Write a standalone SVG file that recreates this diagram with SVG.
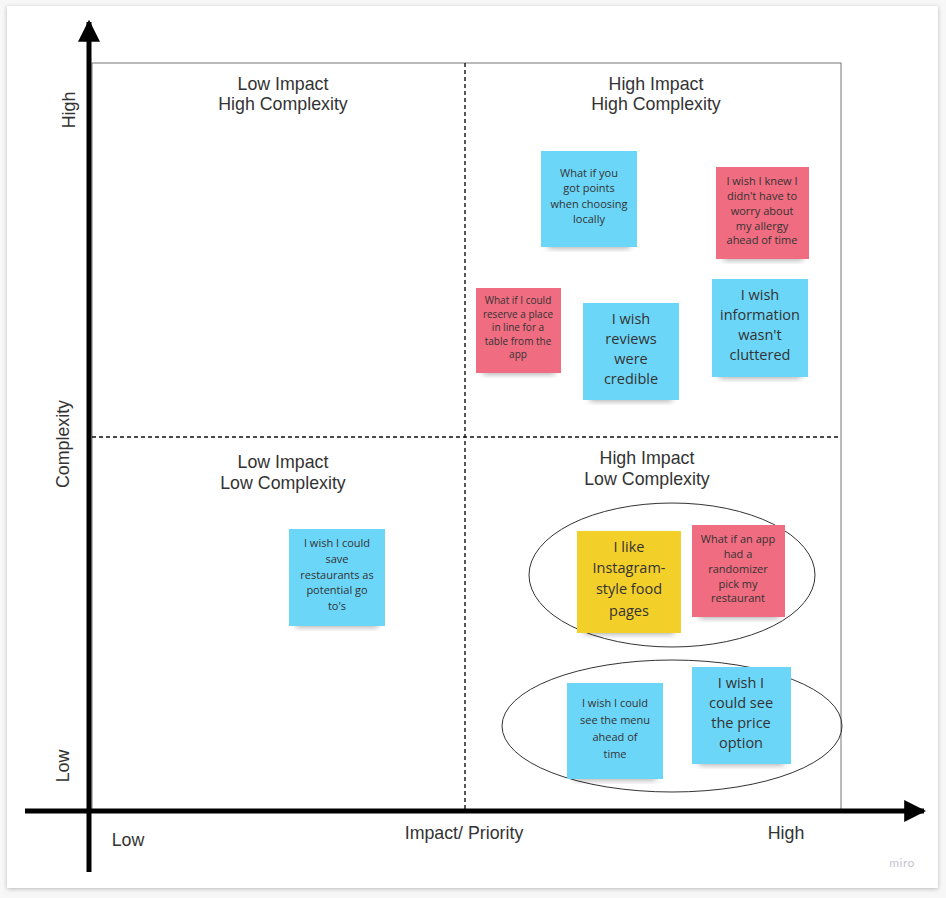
<svg xmlns="http://www.w3.org/2000/svg" width="946" height="898" viewBox="0 0 946 898">
<defs>
<filter id="card" x="-5%" y="-5%" width="110%" height="110%"><feDropShadow dx="0" dy="1" stdDeviation="2" flood-color="#000" flood-opacity="0.25"/></filter>
<filter id="sh" x="-20%" y="-20%" width="140%" height="150%"><feGaussianBlur stdDeviation="3"/></filter>
<marker id="ah" viewBox="0 0 10 10" refX="9" refY="5" markerWidth="4.4" markerHeight="4.4" markerUnits="strokeWidth" orient="auto"><path d="M0,0 L10,5 L0,10 z" fill="#000"/></marker>
</defs>
<style>
.q{font-family:"Liberation Sans",Arial,sans-serif;font-size:17.8px;fill:#333;text-anchor:middle}
.ax{font-family:"Liberation Sans",Arial,sans-serif;font-size:17.8px;fill:#333;text-anchor:middle}
.s{font-family:"Open Sans","Noto Sans",sans-serif;fill:#333;text-anchor:middle;font-size:11px}
.t{font-family:"Open Sans","Noto Sans",sans-serif;fill:#333;text-anchor:middle;font-size:10px}
.b{font-family:"Open Sans","Noto Sans",sans-serif;fill:#333;text-anchor:middle;font-size:14.5px}
.blue{fill:#6cd6f8}.red{fill:#f06c80}.yel{fill:#f3cf2a}
.shd{fill:#000;opacity:0.35;filter:url(#sh)}
</style>
<rect x="0" y="0" width="946" height="898" fill="#f7f7f7"/>
<rect x="7" y="6" width="931" height="882" fill="#fff" filter="url(#card)"/>
<g id="grid">
<rect x="92" y="63" width="749" height="748" fill="none" stroke="#777" stroke-width="1"/>
<line x1="465" y1="63" x2="465" y2="811" stroke="#111" stroke-width="1.4" stroke-dasharray="4,3"/>
<line x1="92" y1="437" x2="841" y2="437" stroke="#111" stroke-width="1.4" stroke-dasharray="4,3"/>
</g>
<g id="connectors">
<line x1="89" y1="872" x2="89" y2="22" stroke="#000" stroke-width="5" marker-end="url(#ah)"/>
<line x1="25" y1="811" x2="924" y2="811" stroke="#000" stroke-width="5" marker-end="url(#ah)"/>
</g>
<g id="labels">
<text class="q" x="283" y="90">Low Impact</text><text class="q" x="283" y="110">High Complexity</text>
<text class="q" x="656" y="90">High Impact</text><text class="q" x="656" y="110">High Complexity</text>
<text class="q" x="283" y="468">Low Impact</text><text class="q" x="283" y="489">Low Complexity</text>
<text class="q" x="647" y="464">High Impact</text><text class="q" x="647" y="485">Low Complexity</text>
<text class="ax" transform="translate(75,110) rotate(-90)">High</text>
<text class="ax" transform="translate(69,444) rotate(-90)">Complexity</text>
<text class="ax" transform="translate(69,766) rotate(-90)">Low</text>
<text class="ax" x="128" y="846">Low</text>
<text class="ax" x="464" y="839">Impact/ Priority</text>
<text class="ax" x="786" y="839">High</text>
<text x="902" y="867" font-family="Lato,'Open Sans',sans-serif" font-size="12" fill="#c4c4cc" text-anchor="middle" letter-spacing="0.5">miro</text>
</g>
<g id="n1"><rect class="shd" x="548" y="236" width="82" height="12"/><rect class="blue" x="541" y="151" width="96" height="96"/>
<text class="s" x="589" y="177">What if you</text><text class="s" x="589" y="192">got points</text><text class="s" x="589" y="208">when choosing</text><text class="s" x="589" y="223">locally</text></g>
<g id="n2"><rect class="shd" x="723" y="248" width="80" height="12"/><rect class="red" x="716" y="167" width="93" height="92"/>
<text class="s" x="762" y="185">I wish I knew I</text><text class="s" x="762" y="200">didn't have to</text><text class="s" x="762" y="215">worry about</text><text class="s" x="762" y="230">my allergy</text><text class="s" x="762" y="244">ahead of time</text></g>
<g id="n3"><rect class="shd" x="483" y="362" width="72" height="12"/><rect class="red" x="476" y="288" width="85" height="85"/>
<text class="t" x="518" y="304">What if I could</text><text class="t" x="518" y="317.5">reserve a place</text><text class="t" x="518" y="331">in line for a</text><text class="t" x="518" y="344.5">table from the</text><text class="t" x="518" y="358">app</text></g>
<g id="n4"><rect class="shd" x="590" y="389" width="82" height="12"/><rect class="blue" x="583" y="303" width="96" height="97"/>
<text class="b" x="631" y="324">I wish</text><text class="b" x="631" y="344">reviews</text><text class="b" x="631" y="364">were</text><text class="b" x="631" y="384">credible</text></g>
<g id="n5"><rect class="shd" x="719" y="366" width="82" height="12"/><rect class="blue" x="712" y="279" width="96" height="98"/>
<text class="b" x="760" y="300">I wish</text><text class="b" x="760" y="320">information</text><text class="b" x="760" y="340">wasn't</text><text class="b" x="760" y="360">cluttered</text></g>
<g id="n6"><rect class="shd" x="296" y="615" width="82" height="12"/><rect class="blue" x="289" y="529" width="96" height="97"/>
<text class="s" x="337" y="547">I wish I could</text><text class="s" x="337" y="563">save</text><text class="s" x="337" y="579">restaurants as</text><text class="s" x="337" y="594">potential go</text><text class="s" x="337" y="610">to's</text></g>
<g id="g1"><ellipse cx="672" cy="575" rx="143" ry="72" fill="none" stroke="#333" stroke-width="1"/></g>
<g id="g2"><ellipse cx="672" cy="726" rx="170" ry="66" fill="none" stroke="#333" stroke-width="1"/></g>
<g id="n7"><rect class="shd" x="584" y="622" width="90" height="12"/><rect class="yel" x="577" y="531" width="104" height="102"/>
<text class="b" x="629" y="552">I like</text><text class="b" x="629" y="573">Instagram-</text><text class="b" x="629" y="594">style food</text><text class="b" x="629" y="616">pages</text></g>
<g id="n8"><rect class="shd" x="699" y="606" width="80" height="12"/><rect class="red" x="692" y="525" width="93" height="92"/>
<text class="s" x="738" y="543">What if an app</text><text class="s" x="738" y="558">had a</text><text class="s" x="738" y="573">randomizer</text><text class="s" x="738" y="588">pick my</text><text class="s" x="738" y="602">restaurant</text></g>
<g id="n9"><rect class="shd" x="574" y="768" width="82" height="12"/><rect class="blue" x="567" y="683" width="96" height="96"/>
<text class="s" x="615" y="707">I wish I could</text><text class="s" x="615" y="724">see the menu</text><text class="s" x="615" y="741">ahead of</text><text class="s" x="615" y="758">time</text></g>
<g id="n10"><rect class="shd" x="699" y="753" width="85" height="12"/><rect class="blue" x="692" y="667" width="99" height="97"/>
<text class="b" x="741" y="688">I wish I</text><text class="b" x="741" y="708">could see</text><text class="b" x="741" y="728">the price</text><text class="b" x="741" y="748">option</text></g>
</svg>
